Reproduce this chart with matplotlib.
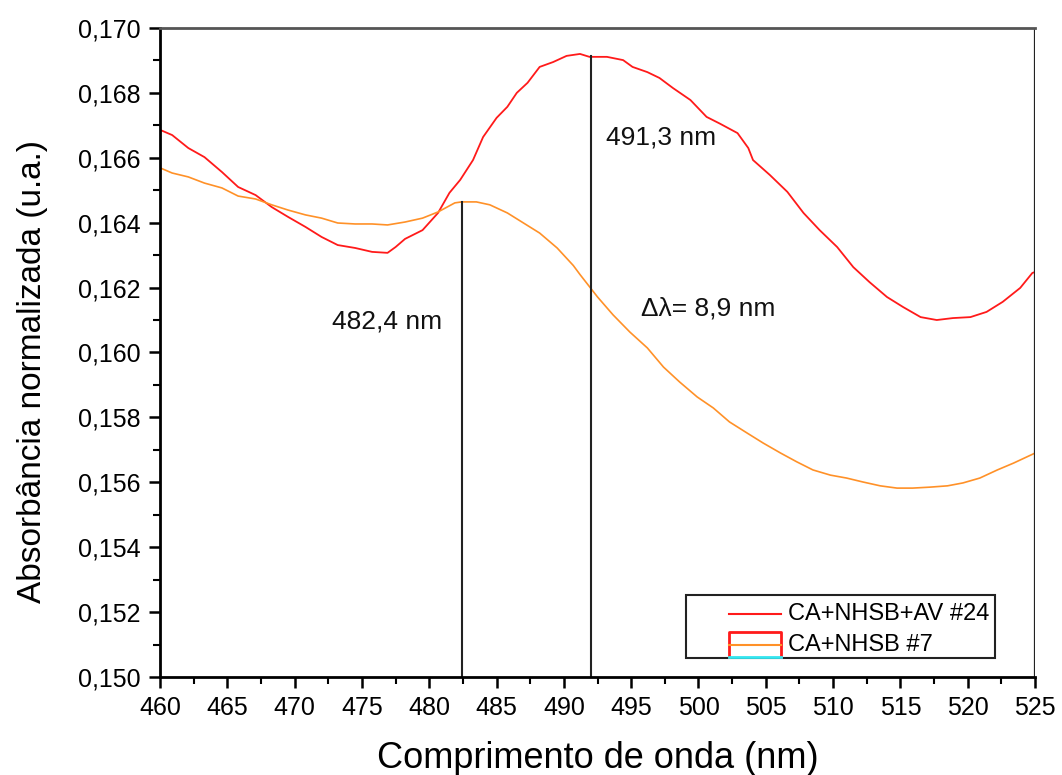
import matplotlib
matplotlib.use("Agg")
import matplotlib.pyplot as plt
from matplotlib.ticker import MultipleLocator, FuncFormatter
from matplotlib.lines import Line2D
from matplotlib.patches import Rectangle

plt.rcParams['font.family'] = ['Liberation Sans', 'DejaVu Sans']

# ---- data ----
red_x = [460.0, 460.9, 462.1, 463.3, 464.6, 465.8, 467.1, 468.3, 469.5, 470.8,
         472.0, 473.2, 474.5, 475.75, 476.9, 477.5, 478.2, 479.5, 480.65, 481.5,
         482.3, 483.25, 484.0, 485.0, 485.8, 486.5, 487.3, 488.2, 489.2, 490.2,
         491.2, 491.9, 493.2, 494.4, 495.1, 496.2, 497.1, 498.1, 499.4, 500.6,
         501.6, 502.9, 503.7, 504.05, 505.3, 506.6, 507.8, 509.0, 510.3, 511.5, 512.7,
         514.0, 515.2, 516.5, 517.7, 518.9, 520.2, 521.4, 522.6, 523.9, 524.8, 525.0]
red_y = [0.16686, 0.16670, 0.16630, 0.16602, 0.16556, 0.16510, 0.16485, 0.16448, 0.16418, 0.16387,
         0.16356, 0.16331, 0.16322, 0.16310, 0.16307, 0.16325, 0.16350, 0.16377, 0.16430, 0.16492,
         0.16532, 0.16593, 0.16664, 0.16723, 0.16757, 0.16800, 0.16831, 0.16880, 0.16895, 0.16914,
         0.16920, 0.16911, 0.16911, 0.16901, 0.16880, 0.16864, 0.16846, 0.16815, 0.16778, 0.16726,
         0.16705, 0.16676, 0.16630, 0.16593, 0.16547, 0.16495, 0.16430, 0.16377, 0.16325, 0.16263, 0.16217,
         0.16171, 0.16140, 0.16109, 0.16100, 0.16106, 0.16109, 0.16125, 0.16156, 0.16199, 0.16245, 0.16248]

orange_x = [460.0, 460.9, 462.1, 463.3, 464.6, 465.8, 467.1, 468.3, 469.5, 470.8,
            472.0, 473.2, 474.5, 475.75, 476.9, 478.2, 479.5, 480.65, 481.9, 482.4,
            483.5, 484.5, 485.8, 487.0, 488.2, 489.5, 490.7, 491.2, 492.5, 493.65,
            494.9, 496.2, 497.4, 498.6, 499.9, 501.1, 502.3, 503.6, 504.8, 506.1,
            507.3, 508.5, 509.8, 511.0, 512.2, 513.5, 514.75, 515.9, 517.2, 518.5,
            519.65, 520.9, 522.2, 523.4, 524.85, 525.0]
orange_y = [0.16569, 0.16553, 0.16541, 0.16522, 0.16507, 0.16482, 0.16473, 0.16455, 0.16439, 0.16424,
            0.16414, 0.16399, 0.16396, 0.16396, 0.16393, 0.16402, 0.16414, 0.16433, 0.16461, 0.16464,
            0.16464, 0.16455, 0.16430, 0.16399, 0.16368, 0.16322, 0.16268, 0.16240, 0.16171, 0.16116,
            0.16063, 0.16014, 0.15955, 0.15909, 0.15863, 0.15829, 0.15786, 0.15752, 0.15721, 0.15690,
            0.15663, 0.15638, 0.15622, 0.15613, 0.15601, 0.15589, 0.15582, 0.15582, 0.15585, 0.15589,
            0.15598, 0.15613, 0.15638, 0.15659, 0.15687, 0.15690]

series_labels = ['CA+NHSB+AV #24', 'CA+NHSB #7']
peak_lines_x = [482.4, 492.0]
peak_lines_top = [0.16464, 0.16914]
annotations = [('491,3 nm', 493.1, 0.16661), ('482,4 nm', 472.8, 0.16094), ('\u0394\u03bb= 8,9 nm', 495.7, 0.16137)]

x_min, x_max, x_step = 460, 525, 5
y_min, y_max, y_step = 0.150, 0.170, 0.002

RED = '#ff1a1a'
ORANGE = '#ff9128'

fig = plt.figure(figsize=(10.62, 7.75), dpi=100)
ax = fig.add_axes([0.1507, 0.1265, 0.8239, 0.8374])

ax.plot(red_x, red_y, color=RED, lw=1.3)
ax.plot(orange_x, orange_y, color=ORANGE, lw=1.2)

for xv, top in zip(peak_lines_x, peak_lines_top):
    ax.plot([xv, xv], [y_min, top], color='#222222', lw=1.5)
ax.plot([x_max, x_max], [y_min, y_max], color='#222222', lw=1.6)

for txt, xv, yv in annotations:
    ax.text(xv, yv, txt, fontsize=19, ha='left', va='center', color='#111111')

ax.set_xlim(x_min, x_max)
ax.set_ylim(y_min, y_max)
ax.xaxis.set_major_locator(MultipleLocator(x_step))
ax.xaxis.set_minor_locator(MultipleLocator(x_step / 2))
ax.yaxis.set_major_locator(MultipleLocator(y_step))
ax.yaxis.set_minor_locator(MultipleLocator(y_step / 2))
ax.yaxis.set_major_formatter(FuncFormatter(lambda v, p: f"{v:.3f}".replace('.', ',')))

ax.tick_params(axis='both', which='major', direction='out', length=8, width=1.8,
               labelsize=18, pad=6, top=False, right=False)
ax.tick_params(axis='both', which='minor', direction='out', length=5, width=1.5,
               top=False, right=False)

for s in ['left', 'bottom']:
    ax.spines[s].set_linewidth(2)
    ax.spines[s].set_color('black')
ax.spines['top'].set_color('#555555')
ax.spines['top'].set_linewidth(2)
ax.spines['right'].set_visible(False)

ax.set_xlabel('Comprimento de onda (nm)', fontsize=26)
ax.set_ylabel('Absorbância normalizada (u.a.)', fontsize=24)
ax.xaxis.set_label_coords(0.5, -0.098)
ax.yaxis.set_label_coords(-0.128, 0.47)

# manual legend (matches the original's odd symbol)
tr = ax.transAxes
ax.add_patch(Rectangle((0.601, 0.0293), 0.353, 0.097, transform=tr, fill=False,
                       edgecolor='#222222', lw=1.5, zorder=5))
ax.add_line(Line2D([0.6503, 0.7097], [0.0971, 0.0971], transform=tr, color=RED, lw=1.5, zorder=6))
ax.add_line(Line2D([0.6503, 0.6503, 0.7097, 0.7097], [0.0308, 0.0693, 0.0693, 0.0308],
                   transform=tr, color=RED, lw=2, zorder=6))
ax.add_line(Line2D([0.6503, 0.7097], [0.0493, 0.0493], transform=tr, color=ORANGE, lw=1.5, zorder=6))
ax.add_line(Line2D([0.6503, 0.7097], [0.0308, 0.0308], transform=tr, color='#33e6f0', lw=2, zorder=6))
ax.text(0.7177, 0.0971, series_labels[0], transform=tr, fontsize=17, va='center', ha='left', zorder=6)
ax.text(0.7177, 0.0493, series_labels[1], transform=tr, fontsize=17, va='center', ha='left', zorder=6)

fig.savefig('out.png', dpi=100)
